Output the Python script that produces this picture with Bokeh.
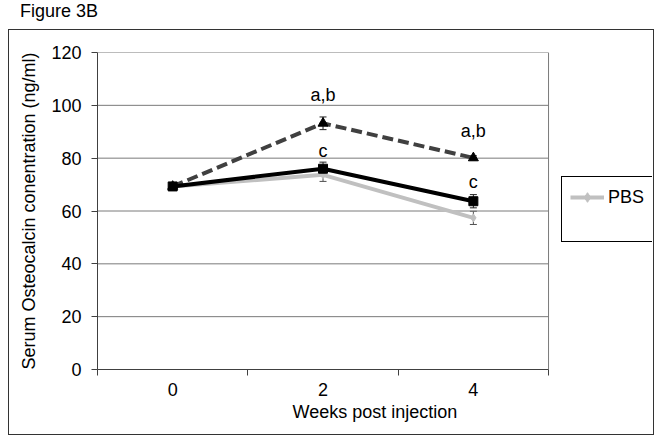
from bokeh.plotting import figure
from bokeh.models import (Range1d, FixedTicker, Legend, LegendItem, Whisker, TeeHead,
                          ColumnDataSource, Div)
from bokeh.layouts import column
from bokeh.core.properties import value
from bokeh.embed import file_html
from bokeh.resources import INLINE

# ---------------- data ----------------
weeks = [0, 2, 4]
x_tick_labels = ["0", "2", "4"]
y_ticks = [0, 20, 40, 60, 80, 100, 120]

pbs_mean = [69.3, 73.7, 57.4]
pbs_err = [1.0, 2.5, 2.5]

solid_mean = [69.3, 76.0, 63.7]
solid_err = [1.0, 2.5, 2.5]

dashed_mean = [69.3, 93.2, 80.1]
dashed_err = [1.0, 2.4, 0.8]

annot_text = ["a,b", "c", "a,b", "c"]
annot_x = [2, 2, 4, 4]
annot_y = [104.0, 82.9, 90.2, 70.9]

FONT = "Liberation Sans"
FS = "18px"

# plot-area extent (categories 0,2,4 centred in slots of width 2)
X_LO, X_HI = -1, 5
Y_LO, Y_HI = 0, 120


def src(mean, err):
    return ColumnDataSource(dict(
        x=weeks, y=mean,
        upper=[m + e for m, e in zip(mean, err)],
        lower=[m - e for m, e in zip(mean, err)],
    ))


# the frame is widened to the right so the legend (outside the plot area) is not clipped
p = figure(width=646, height=406, output_backend="svg", toolbar_location=None,
           x_range=Range1d(X_LO, 6.383), y_range=Range1d(Y_LO, Y_HI),
           min_border_left=88, min_border_right=3, min_border_top=22,
           min_border_bottom=67,
           styles={"border": "1px solid #333333"})

p.outline_line_color = None
p.background_fill_color = "white"
p.border_fill_color = "white"

# grid (limited to the plot area) and right border of plot area
p.xgrid.visible = False
p.ygrid.visible = False
p.segment(x0=[X_LO] * len(y_ticks), x1=[X_HI] * len(y_ticks), y0=y_ticks, y1=y_ticks,
          line_color="#7a7a7a", line_width=1)
p.segment(x0=[X_HI], x1=[X_HI], y0=[Y_LO], y1=[Y_HI], line_color="#7a7a7a", line_width=1)

# y axis
p.yaxis.ticker = FixedTicker(ticks=y_ticks)
p.yaxis.axis_label = "Serum Osteocalcin conentration (ng/ml)"
p.yaxis.axis_label_text_font = FONT
p.yaxis.axis_label_text_font_size = FS
p.yaxis.axis_label_text_font_style = "normal"
p.yaxis.axis_label_text_color = "#000000"
p.yaxis.axis_label_standoff = 9
p.yaxis.major_label_text_font = FONT
p.yaxis.major_label_text_font_size = FS
p.yaxis.major_label_text_color = "#000000"
p.yaxis.major_label_standoff = 10
p.yaxis.major_tick_out = 6
p.yaxis.major_tick_in = 0
p.yaxis.minor_tick_out = 0
p.yaxis.minor_tick_in = 0
p.yaxis.axis_line_color = "#404040"
p.yaxis.major_tick_line_color = "#404040"

# x axis: labels at category centres, tick marks between categories
p.xaxis.ticker = FixedTicker(ticks=weeks, minor_ticks=[-1, 1, 3, 5])
p.xaxis.bounds = (X_LO, X_HI)
p.xaxis.major_label_overrides = {w: t for w, t in zip(weeks, x_tick_labels)}
p.xaxis.axis_label = "Weeks post injection"
p.xaxis.axis_label_text_font = FONT
p.xaxis.axis_label_text_font_size = FS
p.xaxis.axis_label_text_font_style = "normal"
p.xaxis.axis_label_text_color = "#000000"
p.xaxis.axis_label_standoff = 3
p.xaxis.major_label_text_font = FONT
p.xaxis.major_label_text_font_size = FS
p.xaxis.major_label_text_color = "#000000"
p.xaxis.major_label_standoff = 7
p.xaxis.major_tick_out = 0
p.xaxis.major_tick_in = 0
p.xaxis.minor_tick_out = 6
p.xaxis.minor_tick_in = 0
p.xaxis.axis_line_color = "#404040"
p.xaxis.minor_tick_line_color = "#404040"

s_pbs = src(pbs_mean, pbs_err)
s_solid = src(solid_mean, solid_err)
s_dash = src(dashed_mean, dashed_err)

# error bars
for s, col in [(s_pbs, "#505050"), (s_dash, "#202020"), (s_solid, "#202020")]:
    w = Whisker(base="x", upper="upper", lower="lower", source=s,
                line_color=col, line_width=1,
                upper_head=TeeHead(size=7, line_color=col, line_width=1),
                lower_head=TeeHead(size=7, line_color=col, line_width=1))
    p.add_layout(w)

# series
l_pbs = p.line("x", "y", source=s_pbs, line_color="#c0c0c0", line_width=4)
m_pbs = p.scatter("x", "y", source=s_pbs, marker="diamond", size=8,
                  fill_color="#c0c0c0", line_color="#c0c0c0")

p.line("x", "y", source=s_dash, line_color="#404040", line_width=4,
       line_dash="11 5")
p.scatter("x", "y", source=s_dash, marker="triangle", size=10,
          fill_color="#000000", line_color="#000000")

p.line("x", "y", source=s_solid, line_color="#000000", line_width=4)
p.scatter("x", "y", source=s_solid, marker="square", size=9,
          fill_color="#000000", line_color="#000000")

# significance letters
p.text(x=annot_x, y=annot_y, text=annot_text, text_font=value(FONT),
       text_font_size=value(FS), text_align="center", text_baseline="middle",
       text_color="#000000")

# legend (only PBS entry is visible in the original)
dummy = p.line("x", "y", source=s_pbs, line_alpha=0)
legend = Legend(items=[LegendItem(label="PBS", renderers=[l_pbs, m_pbs]),
                       LegendItem(label=" ", renderers=[dummy])],
                location=(464, 127), orientation="vertical",
                label_text_font=FONT, label_text_font_size=FS,
                label_text_color="#000000",
                glyph_width=34, glyph_height=24, label_height=24,
                label_standoff=4, spacing=0, padding=8, margin=0,
                border_line_color="#000000", border_line_width=1,
                border_line_alpha=1.0,
                background_fill_color="white", background_fill_alpha=1)
p.add_layout(legend)

title = Div(text='<span style="display:block; font-family: \'Liberation Sans\', Arial, sans-serif; '
                 'font-size:18px; line-height:10px; padding-left:7px; color:#000000; '
                 'white-space:nowrap;">Figure 3B</span>',
            width=200, height=19, styles={"overflow": "visible"})

layout = column(title, p, spacing=0, styles={"margin-left": "8px"})

open("out.html", "w").write(file_html(layout, INLINE))
